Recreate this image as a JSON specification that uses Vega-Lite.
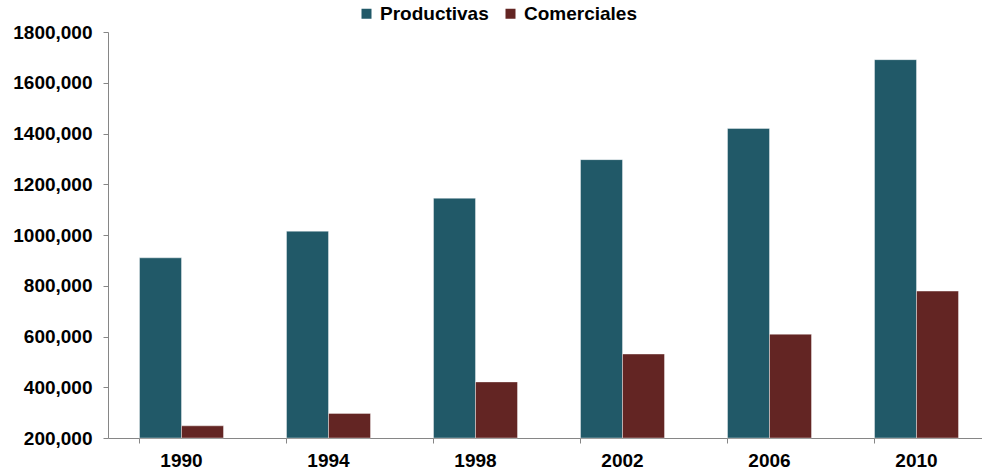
{
  "$schema": "https://vega.github.io/schema/vega-lite/v6.json",
  "autosize": {"type": "none"},
  "padding": {"left": 108, "top": 32, "right": 0, "bottom": 31},
  "width": 882,
  "height": 406,
  "background": "#ffffff",
  "config": {
    "view": {"stroke": null},
    "font": "Liberation Sans",
    "axis": {
      "labelFont": "Liberation Sans",
      "labelFontWeight": "bold",
      "labelFontSize": 19,
      "labelColor": "#000000",
      "domainColor": "#868686",
      "tickColor": "#868686",
      "domainWidth": 1,
      "tickWidth": 1,
      "tickSize": 5,
      "grid": false,
      "title": null
    }
  },
  "data": {
    "values": [
      {"year": "1990", "series": "Productivas", "value": 910000},
      {"year": "1990", "series": "Comerciales", "value": 248000},
      {"year": "1994", "series": "Productivas", "value": 1015000},
      {"year": "1994", "series": "Comerciales", "value": 297000},
      {"year": "1998", "series": "Productivas", "value": 1145000},
      {"year": "1998", "series": "Comerciales", "value": 421000},
      {"year": "2002", "series": "Productivas", "value": 1297000},
      {"year": "2002", "series": "Comerciales", "value": 531000},
      {"year": "2006", "series": "Productivas", "value": 1420000},
      {"year": "2006", "series": "Comerciales", "value": 609000},
      {"year": "2010", "series": "Productivas", "value": 1691000},
      {"year": "2010", "series": "Comerciales", "value": 779000}
    ]
  },
  "mark": {"type": "bar", "stroke": "#ffffff", "strokeWidth": 0.8, "strokeOpacity": 0.5},
  "encoding": {
    "x": {
      "field": "year",
      "type": "nominal",
      "sort": null,
      "scale": {"paddingInner": 0.4286, "paddingOuter": 0.2143},
      "axis": {"labelAngle": 0, "labelPadding": 8, "bandPosition": 0, "ticks": true}
    },
    "xOffset": {
      "field": "series",
      "type": "nominal",
      "sort": ["Productivas", "Comerciales"]
    },
    "y": {
      "field": "value",
      "type": "quantitative",
      "scale": {"domain": [200000, 1800000], "nice": false, "zero": false},
      "axis": {
        "values": [200000, 400000, 600000, 800000, 1000000, 1200000, 1400000, 1600000, 1800000],
        "labelExpr": "format(datum.value / 1000, 'd') + ',000'",
        "labelPadding": 11
      }
    },
    "y2": {"datum": 200000},
    "color": {
      "field": "series",
      "type": "nominal",
      "sort": ["Productivas", "Comerciales"],
      "scale": {"domain": ["Productivas", "Comerciales"], "range": ["#215968", "#632523"]},
      "legend": {
        "title": null,
        "orient": "none",
        "direction": "horizontal",
        "legendX": 249,
        "legendY": -28,
        "symbolType": "square",
        "symbolSize": 100,
        "symbolStrokeWidth": 0,
        "labelFont": "Liberation Sans",
        "labelFontWeight": "bold",
        "labelFontSize": 19,
        "labelColor": "#000000",
        "labelOffset": 4,
        "columnPadding": 12
      }
    }
  }
}
